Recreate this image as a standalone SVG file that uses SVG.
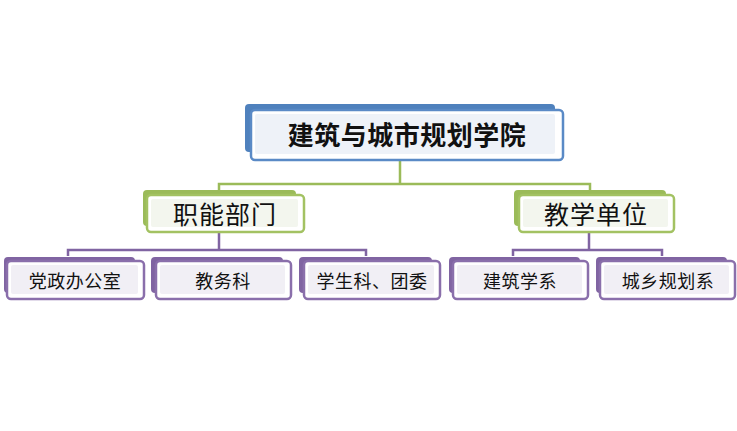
<svg xmlns="http://www.w3.org/2000/svg" width="737" height="431" viewBox="0 0 737 431">
<style>
text{font-family:"Noto Sans CJK SC","Noto Sans",sans-serif;fill:#111;text-anchor:middle;dominant-baseline:central}
.t1{font-size:26px;font-weight:bold;letter-spacing:0.5px}
.t2{font-size:25px;letter-spacing:1px}
.t3{font-size:18px;letter-spacing:0.5px}
.bb{fill:#4f81bd}.fb{fill:#fff;stroke:#5a8ac6;stroke-width:2.5}.ib{fill:#eef2f8}
.bg{fill:#9bbb59}.fg{fill:#fff;stroke:#a3c262;stroke-width:2.5}.ig{fill:#f3f6ee}
.bp{fill:#8064a2}.fp{fill:#fff;stroke:#8a6fab;stroke-width:2.5}.ip{fill:#f1eff5}
.cg{fill:none;stroke:#9bbb59;stroke-width:2.5}
.cp{fill:none;stroke:#8064a2;stroke-width:2.5}
</style>
<rect width="737" height="431" fill="#fff"/>
<g id="connectors">
<path class="cg" d="M400,160V184M219,194V184H590V194"/>
<path class="cp" d="M219,232V250M68,256V250H366V256"/>
<path class="cp" d="M589,232V250M513,256V250H662V256"/>
</g>
<g id="root">
<rect class="bb" x="245" y="104" width="310" height="48" rx="4"/>
<rect class="fb" x="251" y="110" width="312" height="50" rx="4"/>
<rect class="ib" x="255" y="114" width="300" height="40" rx="2"/>
<text class="t1" x="407" y="133">建筑与城市规划学院</text>
</g>
<g id="zhineng">
<rect class="bg" x="143" y="190" width="153" height="36" rx="4"/>
<rect class="fg" x="147" y="195" width="157" height="37" rx="4"/>
<rect class="ig" x="151" y="199" width="147" height="28" rx="2"/>
<text class="t2" x="225" y="213">职能部门</text>
</g>
<g id="jiaoxue">
<rect class="bg" x="514" y="190" width="152" height="36" rx="4"/>
<rect class="fg" x="519" y="195" width="155" height="37" rx="4"/>
<rect class="ig" x="523" y="199" width="145" height="28" rx="2"/>
<text class="t2" x="596" y="213">教学单位</text>
</g>
<g id="dangzheng">
<rect class="bp" x="4" y="257" width="131" height="36" rx="4"/>
<rect class="fp" x="7" y="261" width="137" height="38" rx="4"/>
<rect class="ip" x="11" y="265" width="127" height="29" rx="2"/>
<text class="t3" x="75" y="280">党政办公室</text>
</g>
<g id="jiaowu">
<rect class="bp" x="151" y="257" width="132" height="36" rx="4"/>
<rect class="fp" x="156" y="261" width="135" height="38" rx="4"/>
<rect class="ip" x="160" y="265" width="125" height="29" rx="2"/>
<text class="t3" x="223" y="280">教务科</text>
</g>
<g id="xuesheng">
<rect class="bp" x="299" y="257" width="133" height="36" rx="4"/>
<rect class="fp" x="304" y="261" width="136" height="38" rx="4"/>
<rect class="ip" x="308" y="265" width="126" height="29" rx="2"/>
<text class="t3" x="372" y="280">学生科、团委</text>
</g>
<g id="jianzhu">
<rect class="bp" x="449" y="257" width="131" height="36" rx="4"/>
<rect class="fp" x="453" y="261" width="135" height="38" rx="4"/>
<rect class="ip" x="457" y="265" width="125" height="29" rx="2"/>
<text class="t3" x="520" y="280">建筑学系</text>
</g>
<g id="chengxiang">
<rect class="bp" x="596" y="257" width="131" height="36" rx="4"/>
<rect class="fp" x="600" y="261" width="135" height="38" rx="4"/>
<rect class="ip" x="604" y="265" width="125" height="29" rx="2"/>
<text class="t3" x="668" y="280">城乡规划系</text>
</g>
</svg>
